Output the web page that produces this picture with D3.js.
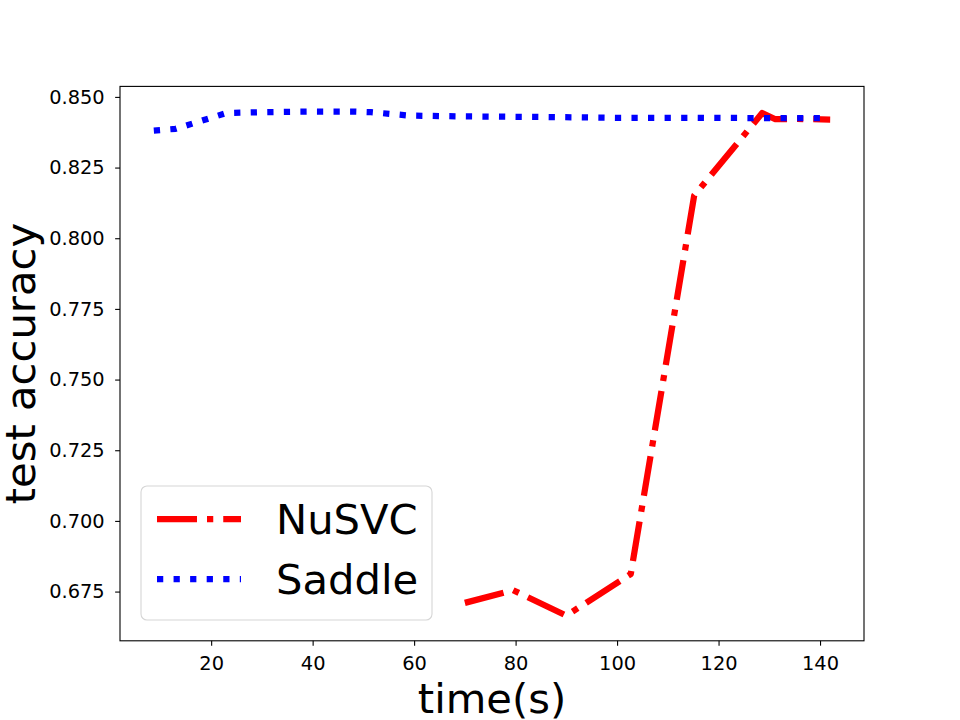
<!DOCTYPE html>
<html>
<head>
<meta charset="utf-8">
<script src="https://cdn.jsdelivr.net/npm/d3@7"></script>
<style>
  html, body { margin: 0; padding: 0; background: #fff; }
  svg { display: block; font-family: "DejaVu Sans", sans-serif; }
</style>
</head>
<body>
<svg id="chart" width="960" height="720"></svg>
<script>
// ---- data ----
const nusvcTime = [70.0, 79.5, 90.0, 102.7, 115.2, 128.6, 131.2, 135.3, 142.0];
const nusvcAcc  = [0.6710, 0.6755, 0.6665, 0.6812, 0.8151, 0.8443, 0.8421, 0.8422, 0.8420];

const saddleTime = [8.7, 13.0, 23.0, 30.0, 40.0, 48.0, 51.5, 59.0, 70.0, 85.0, 100.0, 115.0, 130.0, 142.0];
const saddleAcc  = [0.8381, 0.8387, 0.8443, 0.8446, 0.8448, 0.8448, 0.8446, 0.8434, 0.8431, 0.8429, 0.8426, 0.8426, 0.8425, 0.8425];

const seriesNames = ["NuSVC", "Saddle"];
const xTicks = [20, 40, 60, 80, 100, 120, 140];
const yTicks = [0.675, 0.700, 0.725, 0.750, 0.775, 0.800, 0.825, 0.850];
const xLabel = "time(s)";
const yLabel = "test accuracy";

// ---- layout ----
const W = 960, H = 720;
const L = 120, R = 864, T = 86.4, B = 640.8;
const lw = 6.25;

const svg = d3.select("#chart");

const allX = nusvcTime.concat(saddleTime);
const allY = nusvcAcc.concat(saddleAcc);
const [x0, x1] = d3.extent(allX);
const [y0, y1] = d3.extent(allY);
const px = (x1 - x0) * 0.05, py = (y1 - y0) * 0.05;

const x = d3.scaleLinear().domain([x0 - px, x1 + px]).range([L, R]);
const y = d3.scaleLinear().domain([y0 - py, y1 + py]).range([B, T]);

const nusvc = nusvcTime.map((t, i) => [t, nusvcAcc[i]]);
const saddle = saddleTime.map((t, i) => [t, saddleAcc[i]]);

const line = d3.line().x(d => x(d[0])).y(d => y(d[1]));

svg.append("clipPath").attr("id", "clip")
  .append("rect").attr("x", L).attr("y", T).attr("width", R - L).attr("height", B - T);

const plot = svg.append("g").attr("clip-path", "url(#clip)");

const redDash = `${6.4*lw},${1.6*lw},${1*lw},${1.6*lw}`;
const blueDot = `${1*lw},${1.65*lw}`;

plot.append("path").datum(nusvc).attr("d", line)
  .attr("fill", "none").attr("stroke", "#ff0000").attr("stroke-width", lw)
  .attr("stroke-dasharray", redDash).attr("stroke-linejoin", "round").attr("stroke-linecap", "butt");

plot.append("path").datum(saddle).attr("d", line)
  .attr("fill", "none").attr("stroke", "#0000ff").attr("stroke-width", lw)
  .attr("stroke-dasharray", blueDot).attr("stroke-linejoin", "round").attr("stroke-linecap", "butt");

// ---- axes ----
const tickLen = 4.86, tickPad = 10.5;
const xAxis = d3.axisBottom(x).tickValues(xTicks).tickFormat(d3.format("d"))
  .tickSizeInner(tickLen).tickSizeOuter(0).tickPadding(tickPad);
const yAxis = d3.axisLeft(y).tickValues(yTicks).tickFormat(d3.format(".3f"))
  .tickSizeInner(tickLen).tickSizeOuter(0).tickPadding(tickPad);

const gx = svg.append("g").attr("transform", `translate(0,${B})`).call(xAxis);
const gy = svg.append("g").attr("transform", `translate(${L},0)`).call(yAxis);
[gx, gy].forEach(g => {
  g.select(".domain").remove();
  g.selectAll(".tick line").attr("stroke", "#000").attr("stroke-width", 1.1);
  g.selectAll(".tick text").attr("fill", "#000")
    .style("font-family", "'DejaVu Sans', sans-serif").style("font-size", "19.4px");
});

// spines
svg.append("rect").attr("x", L).attr("y", T).attr("width", R - L).attr("height", B - T)
  .attr("fill", "none").attr("stroke", "#000").attr("stroke-width", 1.1);

// axis labels
svg.append("text").attr("x", (L + R) / 2).attr("y", 713)
  .attr("text-anchor", "middle").style("font-size", "41.7px").attr("fill", "#000")
  .text(xLabel);
svg.append("text").attr("transform", `translate(35,${(T + B) / 2}) rotate(-90)`)
  .attr("text-anchor", "middle").style("font-size", "41.7px").attr("fill", "#000")
  .text(yLabel);

// ---- legend ----
const lg = svg.append("g");
lg.append("rect").attr("x", 141).attr("y", 486).attr("width", 291).attr("height", 134)
  .attr("rx", 6).attr("ry", 6)
  .attr("fill", "rgba(255,255,255,0.8)").attr("stroke", "#d6d6d6").attr("stroke-width", 1.1);

const legendItems = [
  { name: seriesNames[0], color: "#ff0000", dash: redDash, yy: 519 },
  { name: seriesNames[1], color: "#0000ff", dash: blueDot, yy: 579 }
];
legendItems.forEach(it => {
  lg.append("line").attr("x1", 157).attr("x2", 241).attr("y1", it.yy).attr("y2", it.yy)
    .attr("stroke", it.color).attr("stroke-width", lw).attr("stroke-dasharray", it.dash);
  lg.append("text").attr("x", 276).attr("y", it.yy + 15)
    .style("font-size", "41.7px").attr("fill", "#000").text(it.name);
});
</script>
</body>
</html>
